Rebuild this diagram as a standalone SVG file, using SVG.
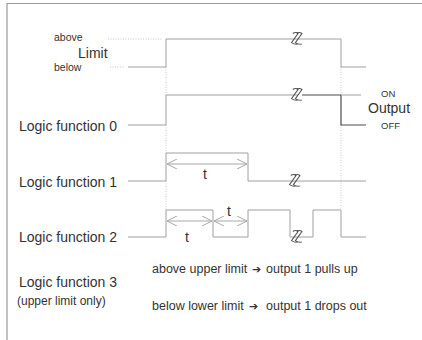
<svg xmlns="http://www.w3.org/2000/svg" width="422" height="340" viewBox="0 0 422 340">
<defs>
<style>
.frame{fill:none;stroke:#9a9a9a;stroke-width:1.2}
.sig{fill:none;stroke:#a0a0a0;stroke-width:1}
.dark{fill:none;stroke:#4a4a4a;stroke-width:1.2}
.dot{fill:none;stroke:#c4c4c4;stroke-width:1;stroke-dasharray:1,1.5}
.dim{fill:none;stroke:#a8a8a8;stroke-width:1}
.brk{fill:none;stroke:#555;stroke-width:0.8}
.lbl{font-family:"Liberation Sans",Arial,sans-serif;fill:#333}
</style>
<marker id="ah" viewBox="0 0 10 10" refX="10" refY="5" markerWidth="10" markerHeight="10" markerUnits="userSpaceOnUse" orient="auto-start-reverse">
<path d="M0,0 L10,5 L0,10" fill="none" stroke="#a8a8a8" stroke-width="1"/>
</marker>
<path id="bk" d="M-4,-5 q2,-1.5 4,0 l-5,7 q3,2 5,1 M-1,-5 q2,-1.5 4,0 l-5,7 q3,2 5,1"/>
</defs>
<rect width="422" height="340" fill="#fff"/>
<path class="frame" d="M7,340 V3.5 H422"/>

<g id="connectors">
<path class="dot" d="M108,39 H162"/>
<path class="dot" d="M110,67 H124" stroke-dasharray="5,3"/>
<path class="dot" d="M166,67 V95 M166,125 V153 M166,181 V210"/>
<path class="dot" d="M341,67 V95 M341,125 V210"/>
</g>

<g id="limit">
<path class="sig" d="M128,67 H166 V39 H341 V67 H366"/>
<use href="#bk" class="brk" transform="translate(298,40) scale(1.3)"/>
</g>

<g id="lf0">
<path class="sig" d="M128,125 H166 V95 H298"/>
<path class="dark" d="M302,95 H341 V125 H366"/>
<path class="sig" d="M341,95 H361"/>
<use href="#bk" class="brk" transform="translate(298,96) scale(1.3)"/>
</g>

<g id="lf1">
<path class="sig" d="M128,181 H166 V153 H248 V181 H366"/>
<use href="#bk" class="brk" transform="translate(296,182) scale(1.3)"/>
<path class="dim" d="M167,164 H247" marker-start="url(#ah)" marker-end="url(#ah)"/>
<text class="lbl" x="205" y="179" font-size="14" text-anchor="middle">t</text>
</g>

<g id="lf2">
<path class="sig" d="M128,237 H166 V210 H213 V237 H248 V210 H290 V237 H313 V210 H341 V237 H366"/>
<use href="#bk" class="brk" transform="translate(298,238) scale(1.3)"/>
<path class="dim" d="M167,221 H212" marker-start="url(#ah)" marker-end="url(#ah)"/>
<path class="dim" d="M214,221 H247" marker-start="url(#ah)" marker-end="url(#ah)"/>
<text class="lbl" x="187" y="242" font-size="14" text-anchor="middle">t</text>
<text class="lbl" x="229" y="216" font-size="14" text-anchor="middle">t</text>
</g>

<g id="labels">
<text class="lbl" x="54" y="41" font-size="10.5">above</text>
<text class="lbl" x="78" y="58" font-size="14">Limit</text>
<text class="lbl" x="54" y="71" font-size="10.5">below</text>
<text class="lbl" x="19" y="131" font-size="14">Logic function 0</text>
<text class="lbl" x="19" y="187" font-size="14">Logic function 1</text>
<text class="lbl" x="19" y="242" font-size="14">Logic function 2</text>
<text class="lbl" x="19" y="287" font-size="14">Logic function 3</text>
<text class="lbl" x="17" y="305" font-size="12">(upper limit only)</text>
<text class="lbl" x="381" y="97" font-size="9.5">ON</text>
<text class="lbl" x="368" y="113" font-size="14">Output</text>
<text class="lbl" x="381" y="129" font-size="9.5">OFF</text>
<text class="lbl" font-size="12.5" y="273"><tspan x="152">above upper limit</tspan><tspan x="252" font-size="11" font-family="DejaVu Sans,sans-serif">➔</tspan><tspan x="266">output 1 pulls up</tspan></text>
<text class="lbl" font-size="12.5" y="310"><tspan x="152">below lower limit</tspan><tspan x="249" font-size="11" font-family="DejaVu Sans,sans-serif">➔</tspan><tspan x="266">output 1 drops out</tspan></text>
</g>
</svg>
